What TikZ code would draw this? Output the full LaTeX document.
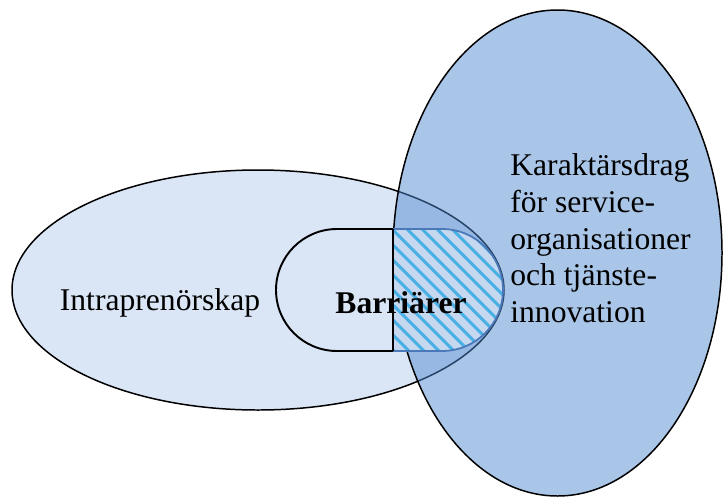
\documentclass[tikz,border=0pt]{standalone}
\usepackage{fontspec}
\setmainfont{Liberation Serif}
\usepackage{xcolor}
\usepackage{tikz}
\usetikzlibrary{positioning}
\definecolor{ink}{HTML}{000000}
\definecolor{intra}{HTML}{DAE6F6}
\definecolor{serv}{HTML}{5089D0}
\definecolor{hatchbg}{HTML}{C5D8F0}
\definecolor{hatch}{HTML}{49B0E6}
\definecolor{edge}{HTML}{4A78B8}

\begin{document}
\begin{tikzpicture}[x=0.02cm, y=-0.02cm,
  font=\fontsize{18}{21}\selectfont,
  rim/.style={draw=ink, line width=0.85pt},
  stripe/.style={draw=hatch, line width=1.8pt}]
  \useasboundingbox (0,0) rectangle (723,497);
  % left set
  \filldraw[rim, fill=intra] (258,290) ellipse [x radius=246, y radius=120];
  % barrier box, plain half
  \filldraw[rim, line width=1.1pt, fill=intra] (393,229) -- (337,229)
    arc[start angle=270, end angle=90, radius=61] -- (393,351) -- cycle;
  % right set, see-through
  \filldraw[rim, fill=serv, fill opacity=0.49] (557.5,253) ellipse [x radius=164.5, y radius=243];
  % barrier box, hatched half
  \begin{scope}
    \clip (393,229) -- (442,229) arc[start angle=-90, end angle=90, radius=61] -- (393,351) -- cycle;
    \fill[hatchbg] (393,229) rectangle (503,351);
    \foreach \s in {272,287,...,512}
      \draw[stripe] (\s-130,99) -- (\s+130,359);
  \end{scope}
  \draw[draw=edge, line width=1pt] (393,229) -- (442,229)
    arc[start angle=-90, end angle=90, radius=61] -- (393,351);
  \draw[rim, line width=1.1pt] (393,229) -- (393,351);
  % labels
  \node[anchor=base] (ip) at (160,310) {Intraprenörskap};
  \node[anchor=base, font=\fontsize{18}{21}\selectfont\bfseries] (barr) at (401,313) {Barriärer};
  \node[anchor=north west, align=left, inner sep=0pt] (kar) at (510,153)
    {Karaktärsdrag\\för service-\\organisationer\\och tjänste-\\innovation};
\end{tikzpicture}
\end{document}
